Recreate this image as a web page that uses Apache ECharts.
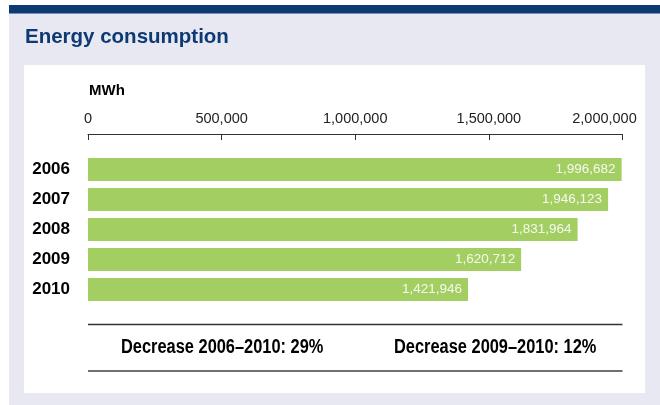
<!DOCTYPE html>
<html>
<head>
<meta charset="utf-8">
<script src="https://cdn.jsdelivr.net/npm/echarts@6/dist/echarts.min.js"></script>
<style>
html,body{margin:0;padding:0;background:#fff;}
#c{width:660px;height:405px;}
</style>
</head>
<body>
<div id="c"></div>
<script>
const years = ['2006', '2007', '2008', '2009', '2010'];
const consumption = [1996682, 1946123, 1831964, 1620712, 1421946];
const axisTicks = [0, 500000, 1000000, 1500000, 2000000];
const titleText = 'Energy consumption';
const unitText = 'MWh';
const notes = ['Decrease 2006\u20132010: 29%', 'Decrease 2009\u20132010: 12%'];

const fmt = v => String(v).replace(/\B(?=(\d{3})+(?!\d))/g, ',');
const SANS = '"Liberation Sans", Arial, Helvetica, sans-serif';

const chart = echarts.init(document.getElementById('c'), null, {renderer: 'canvas'});
chart.setOption({
  animation: false,
  backgroundColor: '#ffffff',
  title: {
    text: titleText,
    left: 25, top: 27,
    padding: 0,
    textStyle: {fontFamily: SANS, fontWeight: 'bold', fontSize: 20.5, color: '#0e3a74'}
  },
  graphic: [
    {type: 'rect', z: -10, shape: {x: 9, y: 13, width: 651, height: 392}, style: {fill: '#e7e8f1'}, silent: true},
    {type: 'rect', z: -10, shape: {x: 9, y: 5, width: 651, height: 8.5}, style: {fill: '#0d3a72'}, silent: true},
    {type: 'rect', z: -9, shape: {x: 24, y: 65, width: 621, height: 328}, style: {fill: '#ffffff'}, silent: true},
    {type: 'text', x: 89, y: 90.5, style: {text: unitText, fontFamily: SANS, fontWeight: 'bold', fontSize: 15, fill: '#000', verticalAlign: 'middle'}},
    {type: 'line', shape: {x1: 88, y1: 324.5, x2: 622.5, y2: 324.5}, style: {stroke: '#333', lineWidth: 1.5}},
    {type: 'line', shape: {x1: 88, y1: 371, x2: 622.5, y2: 371}, style: {stroke: '#707070', lineWidth: 2}},
    {type: 'text', x: 121, y: 347.5, scaleX: 0.82, style: {text: notes[0], fontFamily: SANS, fontWeight: 'bold', fontSize: 20, fill: '#000', verticalAlign: 'middle'}},
    {type: 'text', x: 394, y: 347.5, scaleX: 0.82, style: {text: notes[1], fontFamily: SANS, fontWeight: 'bold', fontSize: 20, fill: '#000', verticalAlign: 'middle'}}
  ],
  grid: {left: 88, right: 37.5, top: 154.5, height: 150, containLabel: false},
  xAxis: {
    type: 'value',
    position: 'top',
    offset: 20.5,
    min: axisTicks[0],
    max: axisTicks[axisTicks.length - 1],
    interval: axisTicks[1] - axisTicks[0],
    splitLine: {show: false},
    axisLine: {show: true, lineStyle: {color: '#333', width: 1}},
    axisTick: {show: true, inside: true, length: 6, lineStyle: {color: '#333', width: 1}},
    axisLabel: {
      margin: 8,
      fontFamily: SANS,
      fontSize: 14.5,
      color: '#222',
      formatter: v => v === axisTicks[axisTicks.length - 1] ? '{m|' + fmt(v) + '}' : fmt(v),
      rich: {m: {fontFamily: SANS, fontSize: 14.5, color: '#222', padding: [0, 36, 0, 0]}}
    }
  },
  yAxis: {
    type: 'category',
    data: years,
    inverse: true,
    axisLine: {show: false},
    axisTick: {show: false},
    axisLabel: {margin: 18, fontFamily: SANS, fontWeight: 'bold', fontSize: 17, color: '#000'}
  },
  series: [{
    type: 'bar',
    data: consumption,
    barWidth: 23,
    itemStyle: {color: '#a3cf62'},
    label: {
      show: true,
      position: 'insideRight',
      distance: 6,
      formatter: p => fmt(p.value),
      fontFamily: SANS,
      fontSize: 13.5,
      color: '#f6f9ef'
    }
  }]
});
</script>
</body>
</html>
